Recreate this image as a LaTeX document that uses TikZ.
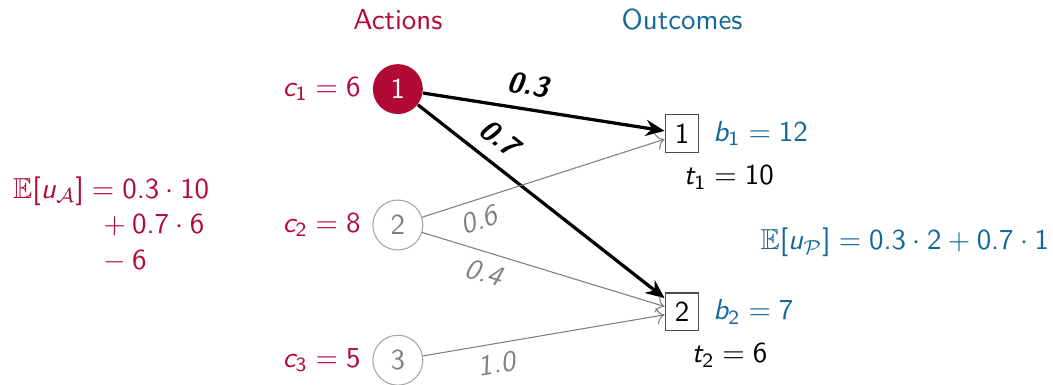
\RequirePackage{fix-cm}
\documentclass[tikz,border=0pt]{standalone}
\definecolor{ActRed}{HTML}{B10A37}
\definecolor{OutBlue}{HTML}{11689A}
\usepackage{amsmath, amssymb}
\usepackage{tikz}
\usetikzlibrary{arrows.meta, positioning}
\renewcommand{\familydefault}{\sfdefault}
% sans digits and letters in math, as on slides
\SetSymbolFont{operators}{normal}{OT1}{cmss}{m}{n}
\SetSymbolFont{letters}{normal}{OT1}{cmss}{m}{it}
\DeclareMathSymbol{.}{\mathord}{operators}{"2E}
\setlength{\jot}{0pt}

\begin{document}
\fontsize{10.7}{13.2}\selectfont
\begin{tikzpicture}[
  act/.style={circle, draw=gray!70, text=gray, minimum size=0.65cm, inner sep=0pt},
  act_on/.style={circle, fill=ActRed, text=white, minimum size=0.65cm, inner sep=0pt},
  outc/.style={rectangle, draw=gray!60!black, minimum width=0.44cm, minimum height=0.49cm, inner sep=0pt},
  chosen/.style={-{Stealth[length=7pt, width=6pt]}, very thick, black},
  other/.style={-{To[length=3pt]}, thin, gray},
  prob/.style={font=\bfseries\itshape, sloped, above=1pt},
  lprob/.style={font=\itshape, text=gray, sloped, below},
]
  \useasboundingbox (0,0) rectangle (13.71,5.0);
  % actions (left) and outcomes (right)
  \node[act_on] (a1) at (5.18, 3.84) {1};
  \foreach \i/\y in {2/2.07, 3/0.31} { \node[act] (a\i) at (5.18, \y) {\i}; }
  \node[outc] (o1) at (8.88, 3.26) {1};
  \node[outc] (o2) at (8.88, 0.94) {2};
  \node[text=ActRed] (acts) at (5.18, 4.74) {Actions};
  \node[text=OutBlue] (outs) at (8.88, 4.74) {Outcomes};
  % costs, bonuses and payments
  \foreach \i/\c in {1/6, 2/8, 3/5}
    \node[text=ActRed, left=0.02cm of a\i] (c\i) {$c_\i = \c$};
  \node[text=OutBlue, right=0.05cm of o1] (b1) {$b_1 = 12$};
  \node[text=OutBlue, right=0.05cm of o2] (b2) {$b_2 = 7$};
  \node[below=1pt of o1, xshift=0.61cm] (t1) {$t_1 = 10$};
  \node[below=1pt of o2, xshift=0.62cm] (t2) {$t_2 = 6$};
  % transitions: chosen action in black, the others faint
  \draw[chosen] (a1) -- node[prob, pos=0.42] {0.3} (o1);
  \draw[chosen] (a1) -- node[prob, pos=0.27] {0.7} (o2);
  \draw[other] (a2) -- node[lprob, pos=0.21] {0.6} (o1);
  \draw[other] (a2) -- node[lprob, pos=0.28] {0.4} (o2);
  \draw[other] (a3) -- node[lprob, pos=0.29] {1.0} (o2);
  % expected utilities
  \node[text=ActRed, anchor=west] (uA) at (0.04, 2.05)
    {$\begin{aligned}\mathbb{E}[u_{\mathcal{A}}] &= 0.3 \cdot 10\\ &{}\mkern8mu+ 0.7 \cdot 6\\ &{}\mkern8mu- 6\end{aligned}$};
  \node[text=OutBlue] (uP) at (11.78, 1.84) {$\mathbb{E}[u_{\mathcal{P}}] = 0.3 \cdot 2 + 0.7 \cdot 1$};
\end{tikzpicture}
\end{document}
